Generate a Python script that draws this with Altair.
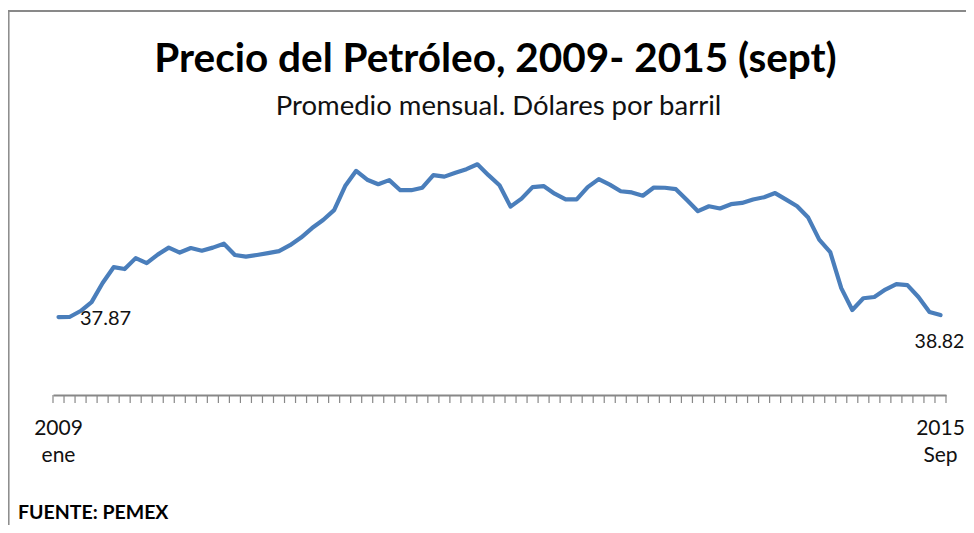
import altair as alt
import pandas as pd

# Monthly index: 0 = 2009 ene ... 80 = 2015 Sep
months = list(range(81))
precio = [37.87, 37.9, 40.8, 45.1, 54.4, 62.1, 61.2, 66.5, 64.1, 68.2, 71.6, 69.2,
          71.4, 70.1, 71.6, 73.5, 68.0, 67.2, 68.0, 68.9, 69.9, 72.8, 76.5, 81.1,
          85.0, 89.8, 101.5, 108.9, 104.6, 102.4, 104.4, 99.5, 99.5, 100.7, 106.8, 106.1,
          108.0, 109.7, 112.1, 106.8, 101.9, 91.5, 95.4, 101.0, 101.5, 97.8, 95.0, 95.0,
          101.0, 104.9, 102.2, 99.0, 98.4, 96.8, 100.8, 100.7, 100.0, 94.7, 89.3, 91.7,
          90.6, 92.7, 93.3, 95.0, 96.1, 98.1, 94.9, 91.7, 86.2, 75.5, 69.4, 51.9,
          41.3, 47.0, 47.6, 51.2, 53.9, 53.4, 47.6, 40.3, 38.82]

x_label_pos = [0, 80]
x_label_text = ["2009\nene", "2015\nSep"]
tick_positions = [i - 0.5 for i in range(82)]

title_text = "Precio del Petróleo, 2009- 2015 (sept)"
subtitle_text = "Promedio mensual. Dólares por barril"
source_text = "FUENTE: PEMEX"

W, H = 893, 247
FONT = "Lato"

df = pd.DataFrame({"i": months, "precio": precio})
df_first = pd.DataFrame({"i": [months[0]], "precio": [precio[0]], "lab": [f"{precio[0]:.2f}"]})
df_last = pd.DataFrame({"i": [months[-1]], "precio": [precio[-1]], "lab": [f"{precio[-1]:.2f}"]})
df_xlab = pd.DataFrame({"i": x_label_pos, "lab": x_label_text})
df_ticks = pd.DataFrame({"t": tick_positions})

xscale = alt.Scale(domain=[-0.5, 80.5], nice=False, zero=False)
yscale = alt.Scale(domain=[0, 120], nice=False)

x_axis = alt.Axis(labels=False, ticks=False, title=None, grid=False,
                  domainColor="#888888", domainWidth=2)

ticks = alt.Chart(df_ticks).mark_rule(color="#888888", strokeWidth=1.2).encode(
    x=alt.X("t:Q", scale=xscale, axis=x_axis),
    y=alt.value(H), y2=alt.value(H + 8))

line = alt.Chart(df).mark_line(color="#4A7EBB", strokeWidth=4.2,
                               strokeJoin="round", strokeCap="round").encode(
    x=alt.X("i:Q", scale=xscale),
    y=alt.Y("precio:Q", scale=yscale, axis=None),
)

lab_first = alt.Chart(df_first).mark_text(font=FONT, fontSize=20, align="left",
                                          baseline="alphabetic", dx=21.5, dy=8,
                                          color="#111111").encode(
    x=alt.X("i:Q", scale=xscale), y=alt.Y("precio:Q", scale=yscale), text="lab:N")

lab_last = alt.Chart(df_last).mark_text(font=FONT, fontSize=19.5, align="center",
                                        baseline="alphabetic", dx=-1, dy=33,
                                        color="#111111").encode(
    x=alt.X("i:Q", scale=xscale), y=alt.Y("precio:Q", scale=yscale), text="lab:N")

xlabels = alt.Chart(df_xlab).mark_text(font=FONT, fontSize=21, align="center",
                                       baseline="alphabetic", lineBreak="\n",
                                       lineHeight=27, color="#111111").encode(
    x=alt.X("i:Q", scale=xscale), y=alt.value(287), text="lab:N")

title = alt.Chart(pd.DataFrame({"t": [title_text]})).mark_text(
    font=FONT, fontSize=40.5, fontWeight="bold", align="center", baseline="alphabetic",
    color="#000000").encode(x=alt.value(442.5), y=alt.value(-76.3), text="t:N")

subtitle = alt.Chart(pd.DataFrame({"t": [subtitle_text]})).mark_text(
    font=FONT, fontSize=27.5, align="center", baseline="alphabetic",
    color="#111111").encode(x=alt.value(445.5), y=alt.value(-33.5), text="t:N")

source = alt.Chart(pd.DataFrame({"t": [source_text]})).mark_text(
    font=FONT, fontSize=19.5, fontWeight="bold", align="left", baseline="alphabetic",
    color="#000000").encode(x=alt.value(-35), y=alt.value(371), text="t:N")

frame_top = alt.Chart(pd.DataFrame({"a": [0]})).mark_rule(
    color="#898989", strokeWidth=2).encode(
    x=alt.value(-45), x2=alt.value(913), y=alt.value(-137))
frame_left = alt.Chart(pd.DataFrame({"a": [0]})).mark_rule(
    color="#898989", strokeWidth=1.5).encode(
    x=alt.value(-44.2), y=alt.value(-138), y2=alt.value(378))

chart = alt.layer(frame_top, frame_left, ticks, line, lab_first, lab_last, xlabels,
                  title, subtitle, source).properties(
    width=W, height=H,
    padding={"left": 45, "top": 140, "right": 20, "bottom": 130},
    autosize=alt.AutoSizeParams(type="none"),
).configure_view(stroke=None)

chart.save("out.html", embed_options={"renderer": "svg", "actions": False})
